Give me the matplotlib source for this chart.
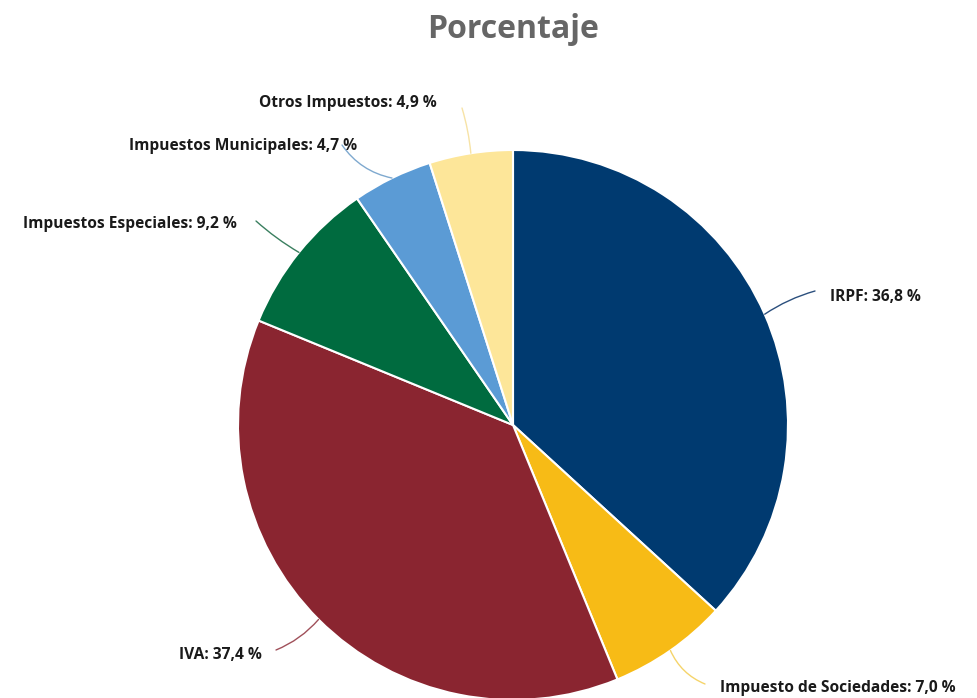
import numpy as np
import matplotlib.pyplot as plt

labels = ["IRPF", "Impuesto de Sociedades", "IVA", "Impuestos Especiales",
          "Impuestos Municipales", "Otros Impuestos"]
values = [36.8, 7.0, 37.4, 9.2, 4.7, 4.9]
colors = ["#003a70", "#f7bb16", "#8a2530", "#006b3f", "#5b9bd5", "#fde699"]
line_colors = ["#2b4f7d", "#f5d46a", "#a0505a", "#3a7f5f", "#7fa9cf", "#f7e3a6"]

# label text anchor (pixel coords, y from top) and alignment
label_pos = [(830, 297, "left"), (720, 688, "left"), (262, 655, "right"),
             (237, 224, "right"), (357, 146, "right"), (437, 103, "right")]
line_end = [(815, 291), (705, 684), (276, 650), (256, 221), (342, 145), (462, 108)]
rads = [0.08, -0.2, 0.12, 0.05, 0.2, -0.05]

W, H = 978, 698
fig = plt.figure(figsize=(W / 100, H / 100), dpi=100)
ax = fig.add_axes([0, 0, 1, 1])

cx, cy, r = 513, 425, 275
# y axis inverted: startangle -90 is the top, counterclock appears clockwise
wedges, _ = ax.pie(values, colors=colors, startangle=-90, counterclock=True,
                   center=(cx, cy), radius=r,
                   wedgeprops=dict(edgecolor="white", linewidth=1.5))
ax.set_xlim(0, W)
ax.set_ylim(H, 0)
ax.set_aspect("equal")
ax.axis("off")

fam = ["Open Sans", "DejaVu Sans"]
for w, lab, v, (tx, ty, ha), (ex, ey), lc, rad in zip(wedges, labels, values, label_pos,
                                                     line_end, line_colors, rads):
    ang = np.deg2rad((w.theta1 + w.theta2) / 2)
    sx = cx + r * np.cos(ang)
    sy = cy + r * np.sin(ang)
    ax.annotate("", xy=(sx, sy), xytext=(ex, ey),
                arrowprops=dict(arrowstyle="-", color=lc, lw=1.0,
                                shrinkA=0, shrinkB=0,
                                connectionstyle=f"arc3,rad={rad}"))
    txt = f"{lab}: {v:.1f} %".replace(".", ",")
    ax.text(tx, ty, txt, ha=ha, va="center", fontsize=11.2, fontweight="bold",
            family=fam, color="#1a1a1a")

ax.text(513, 30, "Porcentaje", ha="center", va="center", fontsize=23,
        fontweight="bold", family=fam, color="#666666")

fig.savefig("out.png", dpi=100)
